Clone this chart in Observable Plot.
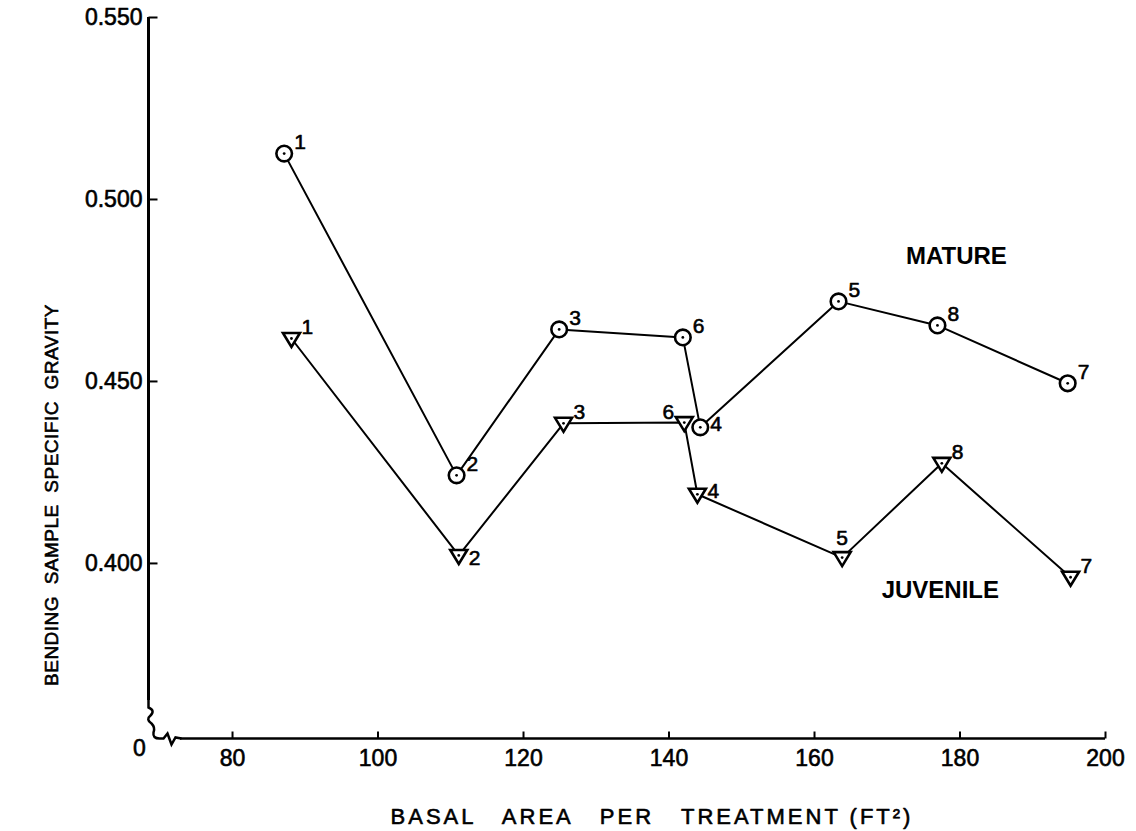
<!DOCTYPE html>
<html><head><meta charset="utf-8">
<script src="https://cdn.jsdelivr.net/npm/d3@7"></script>
<script src="https://cdn.jsdelivr.net/npm/@observablehq/plot@0.6"></script>
<style>html,body{margin:0;padding:0;background:#fff}#chart svg{display:block}</style>
</head><body><div id="chart"></div>
<script>
// ---- data ----
const treatments = [1, 2, 3, 6, 4, 5, 8, 7];
const matureBasalArea = [87.1, 110.8, 124.9, 141.9, 144.3, 163.3, 176.9, 194.8];
const matureGravity = [0.5126, 0.4242, 0.4643, 0.4621, 0.4374, 0.4720, 0.4654, 0.4495];
const juvenileBasalArea = [88.1, 111.1, 125.5, 142.1, 143.9, 163.8, 177.5, 195.2];
const juvenileGravity = [0.4618, 0.4022, 0.4385, 0.4387, 0.4190, 0.4016, 0.4275, 0.3962];
const xTicks = [80, 100, 120, 140, 160, 180, 200];
const yTicks = [0.400, 0.450, 0.500, 0.550];
const seriesNames = ["MATURE", "JUVENILE"];
const xTitle = "BASAL   AREA   PER   TREATMENT (FT\u00B2)";
const yTitle = "BENDING  SAMPLE  SPECIFIC  GRAVITY";

// ---- layout ----
const W = 1136, H = 831;
const mL = 148, mR = 31, mT = 17, mB = 93;
const xDomain = [68.45, 200];
const yDomain = [0.3519, 0.550];
const fw = W - mL - mR, fh = H - mT - mB;
const xBreak = xDomain[0] + (32 / fw) * (xDomain[1] - xDomain[0]);
const yBreak = yDomain[0] + (38 / fh) * (yDomain[1] - yDomain[0]);

const mature = treatments.map((t, i) => ({t, x: matureBasalArea[i], y: matureGravity[i], s: "M"}));
const juvenile = treatments.map((t, i) => ({t, x: juvenileBasalArea[i], y: juvenileGravity[i], s: "J"}));
const all = mature.concat(juvenile);

const FONT = "Liberation Sans, Arial, sans-serif";
const ink = {fill: "#000", stroke: "#000", strokeWidth: 0.6};

// custom symbols
const tickRight = {draw(c) { c.moveTo(0, 0); c.lineTo(9, 0); }};
const tickUp = {draw(c) { c.moveTo(0, 0); c.lineTo(0, -7); }};
const triDown = {draw(c) { c.moveTo(-8.5, -5.5); c.lineTo(8.5, -5.5); c.lineTo(0, 8.5); c.closePath(); }};
const breakMark = {draw(c) {
  c.moveTo(0, -39);
  c.lineTo(0, -31);
  c.quadraticCurveTo(7, -28, 2, -23);
  c.quadraticCurveTo(-3, -19, 3, -15);
  c.quadraticCurveTo(7, -11, 5, -6);
  c.quadraticCurveTo(4, 0, 11, 0);
  c.lineTo(15, 0);
  c.lineTo(19, -5);
  c.lineTo(23, 6);
  c.lineTo(27, -1);
  c.lineTo(33, 0);
}};

function placement(d) {
  if (d.s === "J" && d.t === 6) return "nw";
  if (d.s === "J" && d.t === 5) return "n";
  if (d.s === "J" && d.t === 2) return "se";
  if (d.t === 4) return "e";
  return "ne";
}
const labelGroups = [
  {k: "ne", dx: 10, dy: -11, a: "start"},
  {k: "e", dx: 10, dy: -3, a: "start"},
  {k: "se", dx: 10, dy: 3, a: "start"},
  {k: "nw", dx: -10, dy: -10, a: "end"},
  {k: "n", dx: 0, dy: -19, a: "middle"}
];

const chart = Plot.plot({
  width: W, height: H,
  marginLeft: mL, marginRight: mR, marginTop: mT, marginBottom: mB,
  x: {domain: xDomain, axis: null},
  y: {domain: yDomain, axis: null},
  style: {fontFamily: FONT, background: "#fff", color: "#000"},
  marks: [
    // axes lines
    Plot.ruleX([xDomain[0]], {y1: yBreak, y2: yDomain[1], stroke: "#000", strokeWidth: 3}),
    Plot.ruleY([yDomain[0]], {x1: xBreak, x2: xDomain[1], stroke: "#000", strokeWidth: 2.5}),
    Plot.dot([0], {x: () => xDomain[0], y: () => yDomain[0], symbol: breakMark, fill: "none", stroke: "#000", strokeWidth: 2.5}),
    // y ticks + labels
    Plot.dot(yTicks, {x: () => xDomain[0], y: d => d, symbol: tickRight, fill: "none", stroke: "#000", strokeWidth: 2}),
    Plot.text(yTicks, {x: () => xDomain[0], y: d => d, text: d => d3.format(".3f")(d), textAnchor: "end", dx: -6, fontSize: 23, ...ink}),
    // x ticks + labels
    Plot.dot(xTicks, {x: d => d, y: () => yDomain[0], symbol: tickUp, fill: "none", stroke: "#000", strokeWidth: 2}),
    Plot.text(xTicks, {x: d => d, y: () => yDomain[0], text: d => String(d), dy: 20, fontSize: 23, ...ink}),
    Plot.text(["0"], {x: () => xDomain[0], y: () => yDomain[0], text: d => d, dx: -9, dy: 10, fontSize: 23, ...ink}),
    // axis titles
    Plot.text([xTitle], {text: d => d, frameAnchor: "bottom", textAnchor: "middle", lineAnchor: "middle", dx: 25, dy: 78, fontSize: 22, ...ink}),
    Plot.text([yTitle], {text: d => d, frameAnchor: "left", textAnchor: "middle", lineAnchor: "middle", rotate: -90, dx: -97, dy: 117, fontSize: 19, ...ink}),
    // series lines
    Plot.line(mature, {x: "x", y: "y", stroke: "#000", strokeWidth: 2}),
    Plot.line(juvenile, {x: "x", y: "y", stroke: "#000", strokeWidth: 2}),
    // markers
    Plot.dot(mature, {x: "x", y: "y", r: 7.8, fill: "#fff", stroke: "#000", strokeWidth: 2.6}),
    Plot.dot(juvenile, {x: "x", y: "y", symbol: triDown, fill: "#fff", stroke: "#000", strokeWidth: 2.6}),
    Plot.dot(all, {x: "x", y: "y", r: 1.4, fill: "#000", stroke: "none"}),
    // point labels (treatment numbers)
    ...labelGroups.map(g => Plot.text(all.filter(d => placement(d) === g.k), {
      x: "x", y: "y", text: d => String(d.t), dx: g.dx, dy: g.dy, textAnchor: g.a, fontSize: 21, ...ink
    })),
    // series names
    Plot.text([seriesNames[0]], {x: () => 179.5, y: () => 0.4843, text: d => d, fontSize: 24, fontWeight: "bold", fill: "#000"}),
    Plot.text([seriesNames[1]], {x: () => 177.3, y: () => 0.3926, text: d => d, fontSize: 24, fontWeight: "bold", fill: "#000"})
  ]
});
chart.querySelectorAll("text").forEach(t => {
  if (t.textContent === xTitle) t.setAttribute("letter-spacing", "3");
  if (t.textContent === yTitle) t.setAttribute("letter-spacing", "0.5");
});
document.getElementById("chart").appendChild(chart);
</script>
</body></html>
